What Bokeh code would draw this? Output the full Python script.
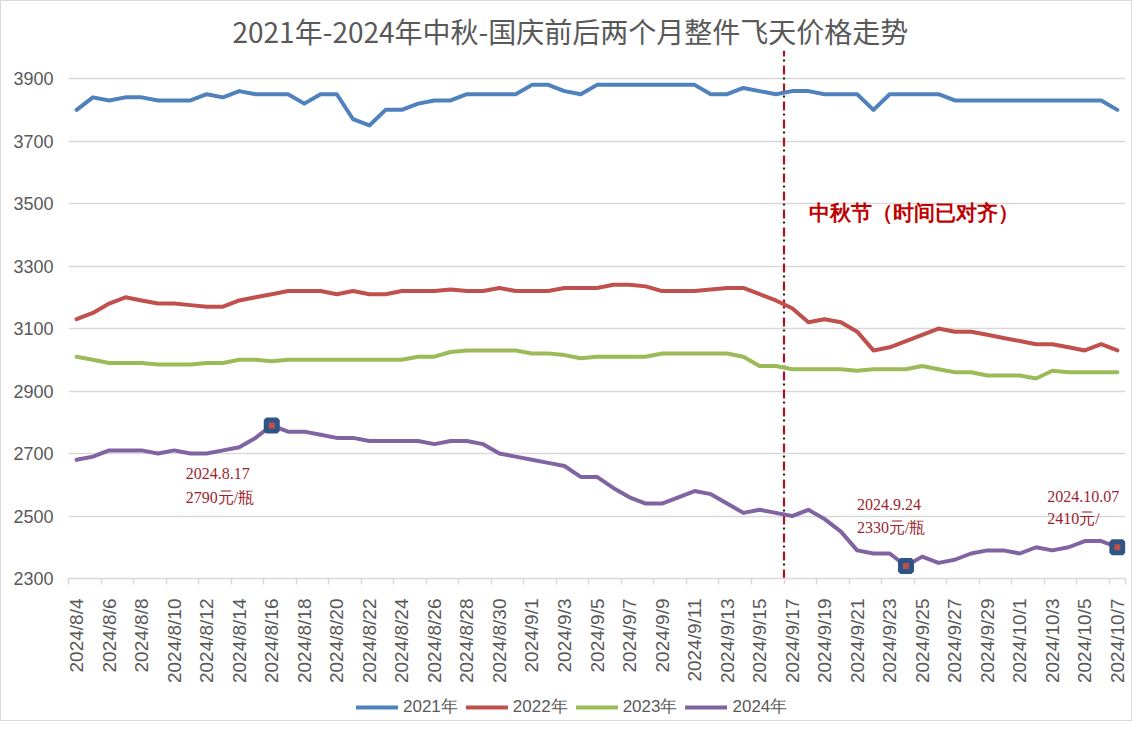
import pandas as pd
import math
from bokeh.plotting import figure
from bokeh.layouts import column
from bokeh.models import FixedTicker, Legend, LegendItem, ColumnDataSource, Range1d
from bokeh.core.properties import value
from bokeh.embed import file_html
from bokeh.resources import INLINE

# ---------------- data ----------------
dates = [f"{d.year}/{d.month}/{d.day}" for d in pd.date_range("2024-08-04", "2024-10-07")]

y2021 = [3800, 3840, 3830, 3840, 3840, 3830, 3830, 3830, 3850, 3840,
         3860, 3850, 3850, 3850, 3820, 3850, 3850, 3770, 3750, 3800,
         3800, 3820, 3830, 3830, 3850, 3850, 3850, 3850, 3880, 3880,
         3860, 3850, 3880, 3880, 3880, 3880, 3880, 3880, 3880, 3850,
         3850, 3870, 3860, 3850, 3860, 3860, 3850, 3850, 3850, 3800,
         3850, 3850, 3850, 3850, 3830, 3830, 3830, 3830, 3830, 3830,
         3830, 3830, 3830, 3830, 3800]

y2022 = [3130, 3150, 3180, 3200, 3190, 3180, 3180, 3175, 3170, 3170,
         3190, 3200, 3210, 3220, 3220, 3220, 3210, 3220, 3210, 3210,
         3220, 3220, 3220, 3225, 3220, 3220, 3230, 3220, 3220, 3220,
         3230, 3230, 3230, 3240, 3240, 3235, 3220, 3220, 3220, 3225,
         3230, 3230, 3210, 3190, 3165, 3120, 3130, 3120, 3090, 3030,
         3040, 3060, 3080, 3100, 3090, 3090, 3080, 3070, 3060, 3050,
         3050, 3040, 3030, 3050, 3030]

y2023 = [3010, 3000, 2990, 2990, 2990, 2985, 2985, 2985, 2990, 2990,
         3000, 3000, 2995, 3000, 3000, 3000, 3000, 3000, 3000, 3000,
         3000, 3010, 3010, 3025, 3030, 3030, 3030, 3030, 3020, 3020,
         3015, 3005, 3010, 3010, 3010, 3010, 3020, 3020, 3020, 3020,
         3020, 3010, 2980, 2980, 2970, 2970, 2970, 2970, 2965, 2970,
         2970, 2970, 2980, 2970, 2960, 2960, 2950, 2950, 2950, 2940,
         2965, 2960, 2960, 2960, 2960]

y2024 = [2680, 2690, 2710, 2710, 2710, 2700, 2710, 2700, 2700, 2710,
         2720, 2750, 2790, 2770, 2770, 2760, 2750, 2750, 2740, 2740,
         2740, 2740, 2730, 2740, 2740, 2730, 2700, 2690, 2680, 2670,
         2660, 2625, 2625, 2590, 2560, 2540, 2540, 2560, 2580, 2570,
         2540, 2510, 2520, 2510, 2500, 2520, 2490, 2450, 2390, 2380,
         2380, 2340, 2370, 2350, 2360, 2380, 2390, 2390, 2380, 2400,
         2390, 2400, 2420, 2420, 2400]

series_names = ["2021年", "2022年", "2023年", "2024年"]
series_values = [y2021, y2022, y2023, y2024]
series_colors = ["#4F81BD", "#C0504D", "#9BBB59", "#8064A2"]

y_ticks = [2300, 2500, 2700, 2900, 3100, 3300, 3500, 3700, 3900]

title_text = "2021年-2024年中秋-国庆前后两个月整件飞天价格走势"
festival_date = "2024/9/17"
festival_text = "中秋节（时间已对齐）"

highlight_dates = ["2024/8/16", "2024/9/24", "2024/10/7"]
highlight_line1 = ["2024.8.17", "2024.9.24", "2024.10.07"]
highlight_line2 = ["2790元/瓶", "2330元/瓶", "2410元/"]

# ---------------- main figure ----------------
idx = list(range(len(dates)))

p = figure(width=1130, height=690, output_backend="svg", toolbar_location=None,
           x_range=Range1d(-0.5, len(dates) - 0.5), y_range=Range1d(2300, 3990),
           min_border_left=67, min_border_right=6, min_border_top=49, min_border_bottom=113)

p.outline_line_color = None
p.background_fill_color = "white"
p.border_fill_color = "white"

p.title.text = title_text
p.title.align = "left"
p.title.offset = 164
p.title.text_font = "Noto Sans CJK SC"
p.title.text_font_size = "28px"
p.title.text_font_style = "normal"
p.title.text_color = "#595959"
p.title.standoff = 0

# grid
p.xgrid.visible = False
p.ygrid.ticker = FixedTicker(ticks=y_ticks)
p.ygrid.grid_line_color = "#D9D9D9"
p.ygrid.grid_line_width = 1.5

# y axis
p.yaxis.ticker = FixedTicker(ticks=y_ticks)
p.yaxis.axis_line_color = None
p.yaxis.major_tick_line_color = None
p.yaxis.minor_tick_line_color = None
p.yaxis.major_label_text_font = "Liberation Sans"
p.yaxis.major_label_text_font_size = "18px"
p.yaxis.major_label_text_color = "#595959"
p.yaxis.major_label_standoff = 9

# x axis
even = idx[::2]
p.xaxis.ticker = FixedTicker(ticks=even, minor_ticks=[i - 0.5 for i in even] + [len(dates) - 0.5])
p.xaxis.major_label_overrides = {i: dates[i] for i in even}
p.xaxis.major_label_orientation = math.pi / 2
p.xaxis.axis_line_color = "#D9D9D9"
p.xaxis.axis_line_width = 1.5
p.xaxis.major_tick_line_color = None
p.xaxis.major_tick_out = 0
p.xaxis.major_tick_in = 0
p.xaxis.minor_tick_line_color = "#D9D9D9"
p.xaxis.minor_tick_line_width = 1.5
p.xaxis.minor_tick_out = 6
p.xaxis.minor_tick_in = 0
p.xaxis.major_label_text_font = "Liberation Sans"
p.xaxis.major_label_text_font_size = "19px"
p.xaxis.major_label_text_color = "#595959"
p.xaxis.major_label_standoff = 14

# festival line (dash + dot)
fx = dates.index(festival_date) - 0.5
p.segment(x0=[fx], y0=[2300], x1=[fx], y1=[3990], line_color="#B01020", line_width=2.2,
          line_dash="9 9")
p.segment(x0=[fx], y0=[2300], x1=[fx], y1=[3990], line_color="#222222", line_width=2.2,
          line_dash="2 16", line_dash_offset=5)

# series lines
for name, vals, col in zip(series_names, series_values, series_colors):
    p.line(idx, vals, line_color=col, line_width=4, line_join="round", line_cap="round")

# highlighted points
hi_idx = [dates.index(d) for d in highlight_dates]
hi_val = [y2024[i] for i in hi_idx]
src = ColumnDataSource(dict(x=hi_idx, y=hi_val))
p.scatter("x", "y", source=src, marker="square", size=11, fill_color="#C0504D",
          line_color="#2F5486", line_width=5)

off_x = [-86, -49, -70]
off_y1 = [48, -62, -51]
off_y2 = [72, -39, -29]
src_t1 = ColumnDataSource(dict(x=hi_idx, y=hi_val, t=highlight_line1, xo=off_x, yo=off_y1))
src_t2 = ColumnDataSource(dict(x=hi_idx, y=hi_val, t=highlight_line2, xo=off_x, yo=off_y2))
for s in (src_t1, src_t2):
    p.text("x", "y", text="t", source=s, x_offset="xo", y_offset="yo",
           text_font=value("Liberation Serif"), text_font_size="16px",
           text_color="#9C1F2E", text_baseline="middle", text_align="left")

p.text(x=[fx], y=[3500], text=[festival_text], x_offset=25, y_offset=9,
       text_font=value("Liberation Serif"), text_font_size="21px", text_font_style="bold",
       text_color="#C00000", text_baseline="middle", text_align="left")

# ---------------- legend strip ----------------
lg = figure(width=1130, height=29, output_backend="svg", toolbar_location=None,
            x_range=Range1d(-1, 0), y_range=Range1d(-1, 0),
            x_axis_location=None, y_axis_location=None, min_border=0)
lg.outline_line_color = None
lg.xgrid.visible = False
lg.ygrid.visible = False
items = []
for name, vals, col in zip(series_names, series_values, series_colors):
    r = lg.line(idx, vals, line_color=col, line_width=4, line_cap="round")
    items.append(LegendItem(label=name, renderers=[r]))
legend = Legend(items=items, orientation="horizontal", location=(288, 2),
                border_line_color=None, background_fill_alpha=0, padding=0, margin=0,
                spacing=8, glyph_width=42, glyph_height=20, label_standoff=5,
                label_text_font="Liberation Sans", label_text_font_size="17px",
                label_text_color="#595959")
lg.add_layout(legend, "center")

layout = column(p, lg, spacing=0, styles={"border": "1px solid #D9D9D9"})

open("out.html", "w").write(file_html(layout, INLINE))
